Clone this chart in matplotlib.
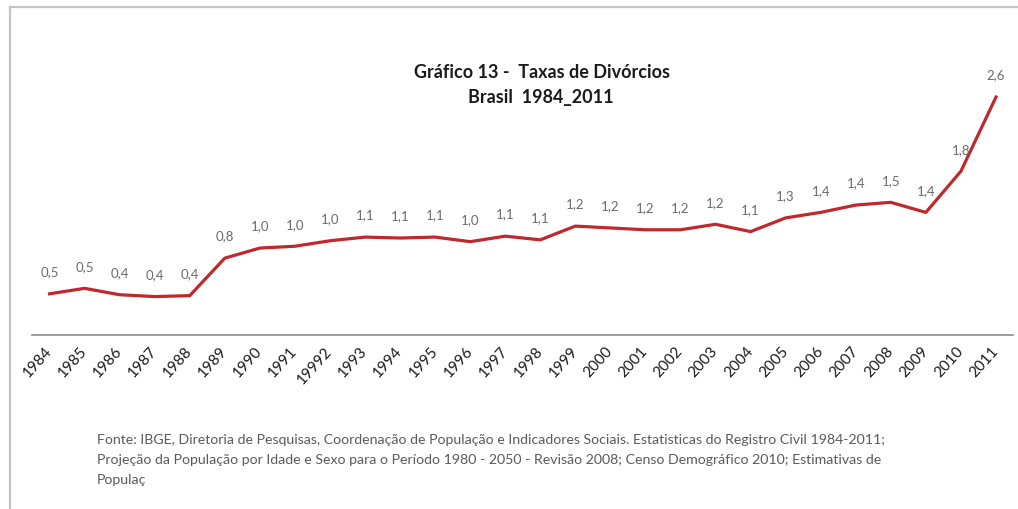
import matplotlib
matplotlib.use("Agg")
import matplotlib.pyplot as plt
from matplotlib.lines import Line2D

# Taxas de divorcios - Brasil 1984-2011
years = ["1984", "1985", "1986", "1987", "1988", "1989", "1990", "1991", "19992",
         "1993", "1994", "1995", "1996", "1997", "1998", "1999", "2000", "2001",
         "2002", "2003", "2004", "2005", "2006", "2007", "2008", "2009", "2010", "2011"]
rates = [0.45, 0.51, 0.44, 0.42, 0.43, 0.84, 0.95, 0.97, 1.03, 1.07, 1.06, 1.07,
         1.02, 1.08, 1.04, 1.19, 1.17, 1.15, 1.15, 1.21, 1.13, 1.28, 1.34, 1.42,
         1.45, 1.34, 1.79, 2.60]
labels = ["0,5", "0,5", "0,4", "0,4", "0,4", "0,8", "1,0", "1,0", "1,0", "1,1",
          "1,1", "1,1", "1,0", "1,1", "1,1", "1,2", "1,2", "1,2", "1,2", "1,2",
          "1,1", "1,3", "1,4", "1,4", "1,5", "1,4", "1,8", "2,6"]

fonte = ("Fonte: IBGE, Diretoria de Pesquisas, Coordenação de População e Indicadores Sociais. "
         "Estatisticas do Registro Civil 1984-2011;\n"
         "Projeção da População por Idade e Sexo para o Período 1980 - 2050 - Revisão 2008; "
         "Censo Demográfico 2010; Estimativas de\n"
         "Populaç")

plt.rcParams["font.family"] = ["Lato", "DejaVu Sans"]

W, H = 1018, 509
fig = plt.figure(figsize=(W / 100, H / 100), dpi=100)

ymax = 3.0
px_per_unit = 91.5
ax_bottom = 335
ax_top = ax_bottom - ymax * px_per_unit
ax = fig.add_axes([32 / W, 1 - ax_bottom / H, (1013.5 - 32) / W, (ax_bottom - ax_top) / H])

x = list(range(len(years)))
ax.plot(x, rates, color="#C0282D", linewidth=2.3, solid_joinstyle="round")
for xi, v, lab in zip(x, rates, labels):
    ax.annotate(lab, (xi, v), xytext=(0, 15.5), textcoords="offset points",
                ha="center", va="center", fontsize=9.5, color="#6b6b6b")

ax.set_xlim(-0.5, len(years) - 0.5)
ax.set_ylim(0, ymax)
ax.set_yticks([])
ax.set_xticks(x)
ax.set_xticklabels(years, rotation=48, ha="right", va="center",
                   rotation_mode="anchor", fontsize=11, color="#1a1a1a")
ax.tick_params(axis="x", length=0, pad=10)
for side in ["top", "right", "left"]:
    ax.spines[side].set_visible(False)
ax.spines["bottom"].set_color("#8c8c8c")
ax.spines["bottom"].set_linewidth(1.2)

fig.text(542 / W, 1 - 73 / H, "Gráfico 13 -  Taxas de Divórcios", ha="center", va="center",
         fontsize=13, fontweight="bold", color="#1a1a1a")
fig.text(541 / W, 1 - 97 / H, "Brasil  1984_2011", ha="center", va="center",
         fontsize=13, fontweight="bold", color="#1a1a1a")

fig.text(97 / W, 1 - 434 / H, fonte, ha="left", va="top", fontsize=10.2,
         color="#5a5a5a", linespacing=1.8)

# moldura cinza (topo e esquerda)
fig.add_artist(Line2D([10 / W, 1.0], [1 - 7 / H, 1 - 7 / H], color="#c4c4c4", linewidth=1.6))
fig.add_artist(Line2D([10 / W, 10 / W], [0, 1 - 7 / H], color="#c4c4c4", linewidth=1.6))

fig.savefig("out.png", dpi=100)
